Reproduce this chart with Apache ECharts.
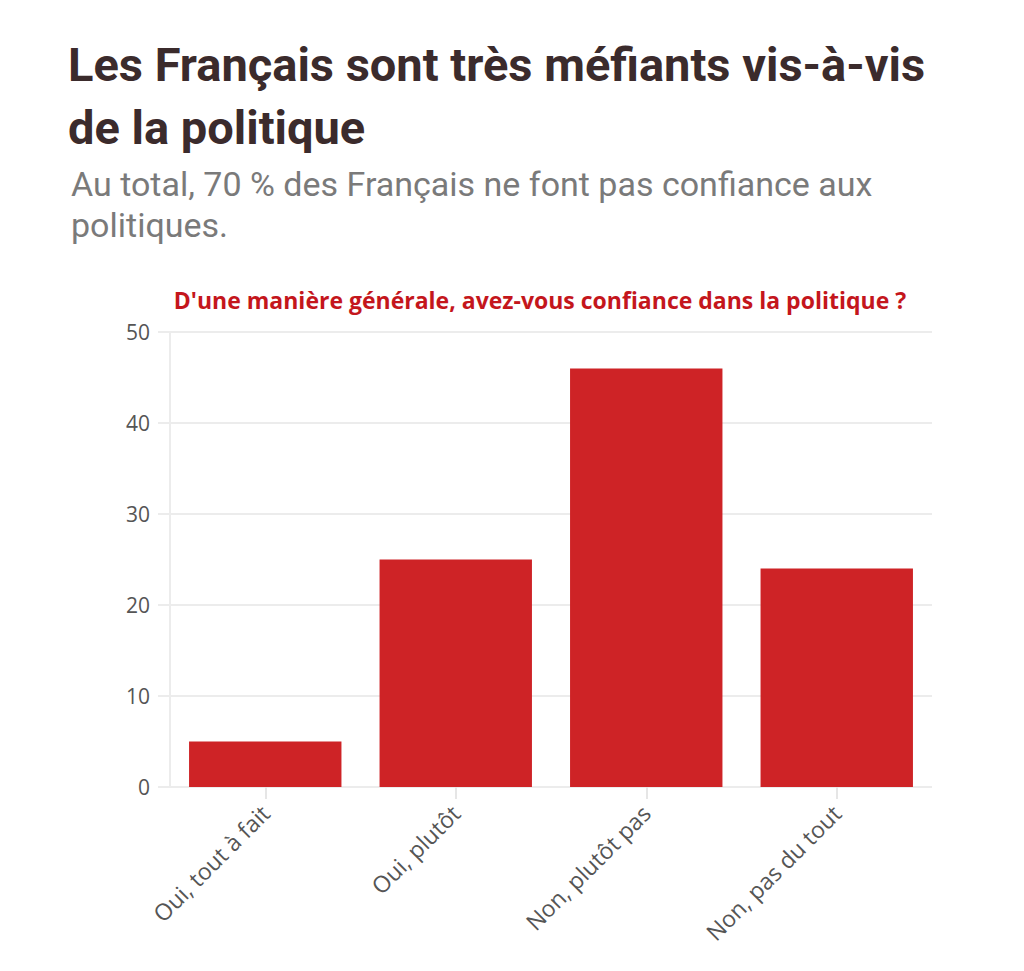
<!DOCTYPE html>
<html>
<head>
<meta charset="utf-8">
<script src="https://cdn.jsdelivr.net/npm/echarts@6/dist/echarts.min.js"></script>
<style>
  html, body { margin: 0; padding: 0; background: #fff; }
  #chart { width: 1024px; height: 971px; }
</style>
</head>
<body>
<div id="chart"></div>
<script>
var categories = ['Oui, tout à fait', 'Oui, plutôt', 'Non, plutôt pas', 'Non, pas du tout'];
var values = [5, 25, 46, 24];
var yTicks = [0, 10, 20, 30, 40, 50];

var titleText = 'Les Français sont très méfiants vis-à-vis\nde la politique';
var subText = 'Au total, 70 % des Français ne font pas confiance aux\npolitiques.';
var question = "D'une manière générale, avez-vous confiance dans la politique ?";

var myChart = echarts.init(document.getElementById('chart'), null, { renderer: 'svg' });

myChart.setOption({
	title : [ {
		text : titleText,
		left : 63,
		top : 28,
		textStyle : {
			fontFamily : 'Roboto, sans-serif',
			fontWeight : 'bold',
			fontSize : 47,
			lineHeight : 63,
			color : '#3b2b2c'
		}
	}, {
		text : subText,
		left : 66,
		top : 158,
		textStyle : {
			fontFamily : 'Roboto, sans-serif',
			fontWeight : 'normal',
			fontSize : 34,
			lineHeight : 41,
			color : '#7a7a7a'
		}
	}, {
		text : question,
		left : 535,
		textAlign : 'center',
		top : 283,
		textStyle : {
			fontFamily : '"Open Sans", sans-serif',
			fontWeight : 'bold',
			fontSize : 23,
			color : '#c4161c'
		}
	} ],
	grid : {
		left : 170,
		right : 92,
		top : 332,
		bottom : 184
	},
	xAxis : {
		type : 'category',
		data : categories,
		axisLine : { show : false },
		axisTick : {
			show : true,
			alignWithLabel : true,
			length : 12,
			lineStyle : { color : '#e6e6e6', width : 2 }
		},
		axisLabel : {
			rotate : 45,
			interval : 0,
			margin : 22,
			fontFamily : '"Open Sans", sans-serif',
			fontSize : 23,
			color : '#555'
		}
	},
	yAxis : {
		type : 'value',
		min : 0,
		max : 50,
		interval : 10,
		axisLine : { show : true, lineStyle : { color : '#ececec', width : 2 } },
		axisTick : { show : true, length : 12, lineStyle : { color : '#ececec', width : 2 } },
		splitLine : { show : true, lineStyle : { color : '#ececec', width : 2 } },
		axisLabel : {
			margin : 20,
			fontFamily : '"Open Sans", sans-serif',
			fontSize : 21,
			color : '#555',
			formatter : function (v) {
				return yTicks.indexOf(v) >= 0 ? String(v) : '';
			}
		}
	},
	series : [ {
		type : 'bar',
		data : values,
		barWidth : '80%',
		itemStyle : { color : '#ce2326' },
		silent : true
	} ]
});
</script>
</body>
</html>
